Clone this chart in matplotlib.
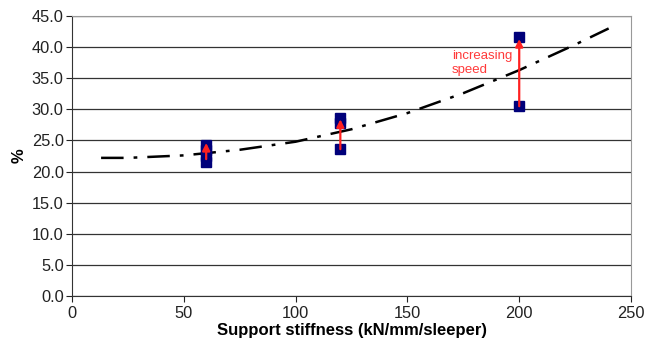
import numpy as np
import matplotlib
matplotlib.use("Agg")
import matplotlib.pyplot as plt

plt.rcParams['font.family'] = ['Liberation Sans', 'DejaVu Sans']

# measured points (stiffness, %)
stiff_pts = [60, 60, 60, 60, 120, 120, 120, 200, 200]
pct_pts = [21.5, 22.5, 23.5, 24.2, 23.6, 27.8, 28.6, 30.5, 41.6]

# trend line (dash-dot)
trend_x = [13, 25, 50, 75, 100, 125, 150, 175, 200, 225, 240]
trend_y = [22.2, 22.2, 22.6, 23.5, 24.8, 26.8, 29.4, 32.6, 36.3, 40.4, 43.0]

# red arrows: (x, from, to)
arrow_x = [60, 120, 200]
arrow_from = [22.0, 23.6, 30.5]
arrow_to = [24.6, 28.4, 41.3]

fig = plt.figure(figsize=(6.5, 3.45), dpi=100)
ax = fig.add_axes([0.1108, 0.142, 0.86, 0.8116])

ax.set_xlim(0, 250)
ax.set_ylim(0, 45)
ax.set_yticks(np.arange(0, 46, 5))
ax.set_xticks(np.arange(0, 251, 50))
ax.set_yticklabels([f"{v:.1f}" for v in np.arange(0, 46, 5)])
ax.grid(axis='y', color='#333333', linewidth=0.9)
ax.set_axisbelow(True)

for s in ['top', 'right']:
    ax.spines[s].set_color('#999999')
for s in ['left', 'bottom']:
    ax.spines[s].set_color('#333333')
ax.tick_params(direction='out', length=4, labelsize=11.8, colors='#222222')
ax.tick_params(axis='y', pad=2)

ax.plot(trend_x, trend_y, color='black', linewidth=1.8,
        dashes=(9, 4, 1.5, 4), zorder=3)

ax.plot(stiff_pts, pct_pts, linestyle='none', marker='s', markersize=6.5,
        color='#00007a', markeredgecolor='#00007a', zorder=4)

for x, a, b in zip(arrow_x, arrow_from, arrow_to):
    ax.annotate('', xy=(x, b), xytext=(x, a),
                arrowprops=dict(arrowstyle='-|>', color='#ff2020', lw=1.6,
                                mutation_scale=11, shrinkA=0, shrinkB=0),
                zorder=5)

ax.text(170, 39.5, 'increasing\nspeed', color='#ff3a3a', fontsize=9.5,
        ha='left', va='top', linespacing=1.2)

ax.set_xlabel('Support stiffness (kN/mm/sleeper)', fontsize=12,
              fontweight='bold', labelpad=1)
ax.set_ylabel('%', fontsize=12, fontweight='bold', labelpad=4)

fig.savefig('out.png', dpi=100)
